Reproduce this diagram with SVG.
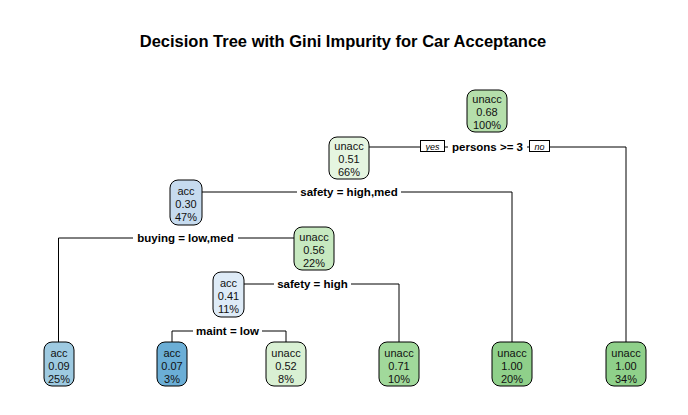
<svg xmlns="http://www.w3.org/2000/svg" width="688" height="415" viewBox="0 0 688 415">
<style>
.t{font-family:"Liberation Sans",Arial,sans-serif;font-size:11px;fill:#111;text-anchor:middle}
.n{stroke:#000;stroke-width:1}
.c{stroke:#000;stroke-width:1;fill:none}
.lb{font-family:"Liberation Sans",Arial,sans-serif;font-size:11.5px;font-weight:bold;fill:#000;text-anchor:middle}
.yn{font-family:"Liberation Sans",Arial,sans-serif;font-size:9px;font-style:italic;fill:#000;text-anchor:middle}
.bg{fill:#fff}
.yb{fill:#fff;stroke:#000;stroke-width:1}
</style>
<rect width="688" height="415" fill="#fff"/>
<text x="343" y="47" font-family="Liberation Sans,Arial,sans-serif" font-size="16.5px" font-weight="bold" text-anchor="middle">Decision Tree with Gini Impurity for Car Acceptance</text>
<g id="connectors">
<path class="c" d="M369,147 H626 V342"/>
<path class="c" d="M202,192 H512 V342"/>
<path class="c" d="M58.5,342 V238 H294"/>
<path class="c" d="M244,284 H399 V342"/>
<path class="c" d="M172,342 V331 H286 V342"/>
<rect class="bg" x="448" y="140" width="79" height="14"/>
<text class="lb" x="487.5" y="151">persons &gt;= 3</text>
<rect class="yb" x="420.5" y="140.5" width="24" height="11"/>
<text class="yn" x="432.5" y="149.5">yes</text>
<rect class="yb" x="529.5" y="140.5" width="20" height="11"/>
<text class="yn" x="539.5" y="149.5">no</text>
<rect class="bg" x="297" y="185" width="104" height="14"/>
<text class="lb" x="349" y="196">safety = high,med</text>
<rect class="bg" x="133" y="231" width="105" height="14"/>
<text class="lb" x="185.5" y="242">buying = low,med</text>
<rect class="bg" x="274" y="277" width="77" height="14"/>
<text class="lb" x="312.5" y="288">safety = high</text>
<rect class="bg" x="193" y="324" width="69" height="14"/>
<text class="lb" x="227.5" y="335">maint = low</text>
</g>
<g id="node1">
<rect class="n" x="467" y="90" width="40" height="42" rx="8" ry="8" fill="#b5dfab"/>
<text class="t" x="487" y="103">unacc</text><text class="t" x="487" y="116">0.68</text><text class="t" x="487" y="129">100%</text>
</g>
<g id="node2">
<rect class="n" x="329" y="137" width="40" height="42" rx="8" ry="8" fill="#e5f5e0"/>
<text class="t" x="349" y="150">unacc</text><text class="t" x="349" y="163">0.51</text><text class="t" x="349" y="176">66%</text>
</g>
<g id="node4">
<rect class="n" x="170" y="180" width="32" height="45" rx="8" ry="8" fill="#c6dbef"/>
<text class="t" x="186" y="194.5">acc</text><text class="t" x="186" y="207.5">0.30</text><text class="t" x="186" y="220.5">47%</text>
</g>
<g id="node9">
<rect class="n" x="294" y="227" width="40" height="43" rx="8" ry="8" fill="#c7e9c0"/>
<text class="t" x="314" y="240.5">unacc</text><text class="t" x="314" y="253.5">0.56</text><text class="t" x="314" y="266.5">22%</text>
</g>
<g id="node18">
<rect class="n" x="213" y="272" width="31" height="45" rx="8" ry="8" fill="#deebf7"/>
<text class="t" x="228.5" y="286.5">acc</text><text class="t" x="228.5" y="299.5">0.41</text><text class="t" x="228.5" y="312.5">11%</text>
</g>
<g id="leaf8">
<rect class="n" x="44" y="342" width="30" height="44" rx="8" ry="8" fill="#9ecae1"/>
<text class="t" x="59" y="356.5">acc</text><text class="t" x="59" y="369.5">0.09</text><text class="t" x="59" y="383">25%</text>
</g>
<g id="leaf36">
<rect class="n" x="157" y="342" width="30" height="44" rx="8" ry="8" fill="#6baed6"/>
<text class="t" x="172" y="356.5">acc</text><text class="t" x="172" y="369.5">0.07</text><text class="t" x="172" y="383">3%</text>
</g>
<g id="leaf37">
<rect class="n" x="266" y="342" width="40" height="44" rx="8" ry="8" fill="#d9f0d3"/>
<text class="t" x="286" y="356.5">unacc</text><text class="t" x="286" y="369.5">0.52</text><text class="t" x="286" y="383">8%</text>
</g>
<g id="leaf19">
<rect class="n" x="379" y="342" width="40" height="44" rx="8" ry="8" fill="#a1d99b"/>
<text class="t" x="399" y="356.5">unacc</text><text class="t" x="399" y="369.5">0.71</text><text class="t" x="399" y="383">10%</text>
</g>
<g id="leaf5">
<rect class="n" x="492" y="342" width="40" height="44" rx="8" ry="8" fill="#8fd08a"/>
<text class="t" x="512" y="356.5">unacc</text><text class="t" x="512" y="369.5">1.00</text><text class="t" x="512" y="383">20%</text>
</g>
<g id="leaf3">
<rect class="n" x="606" y="342" width="40" height="44" rx="8" ry="8" fill="#8fd08a"/>
<text class="t" x="626" y="356.5">unacc</text><text class="t" x="626" y="369.5">1.00</text><text class="t" x="626" y="383">34%</text>
</g>
</svg>
